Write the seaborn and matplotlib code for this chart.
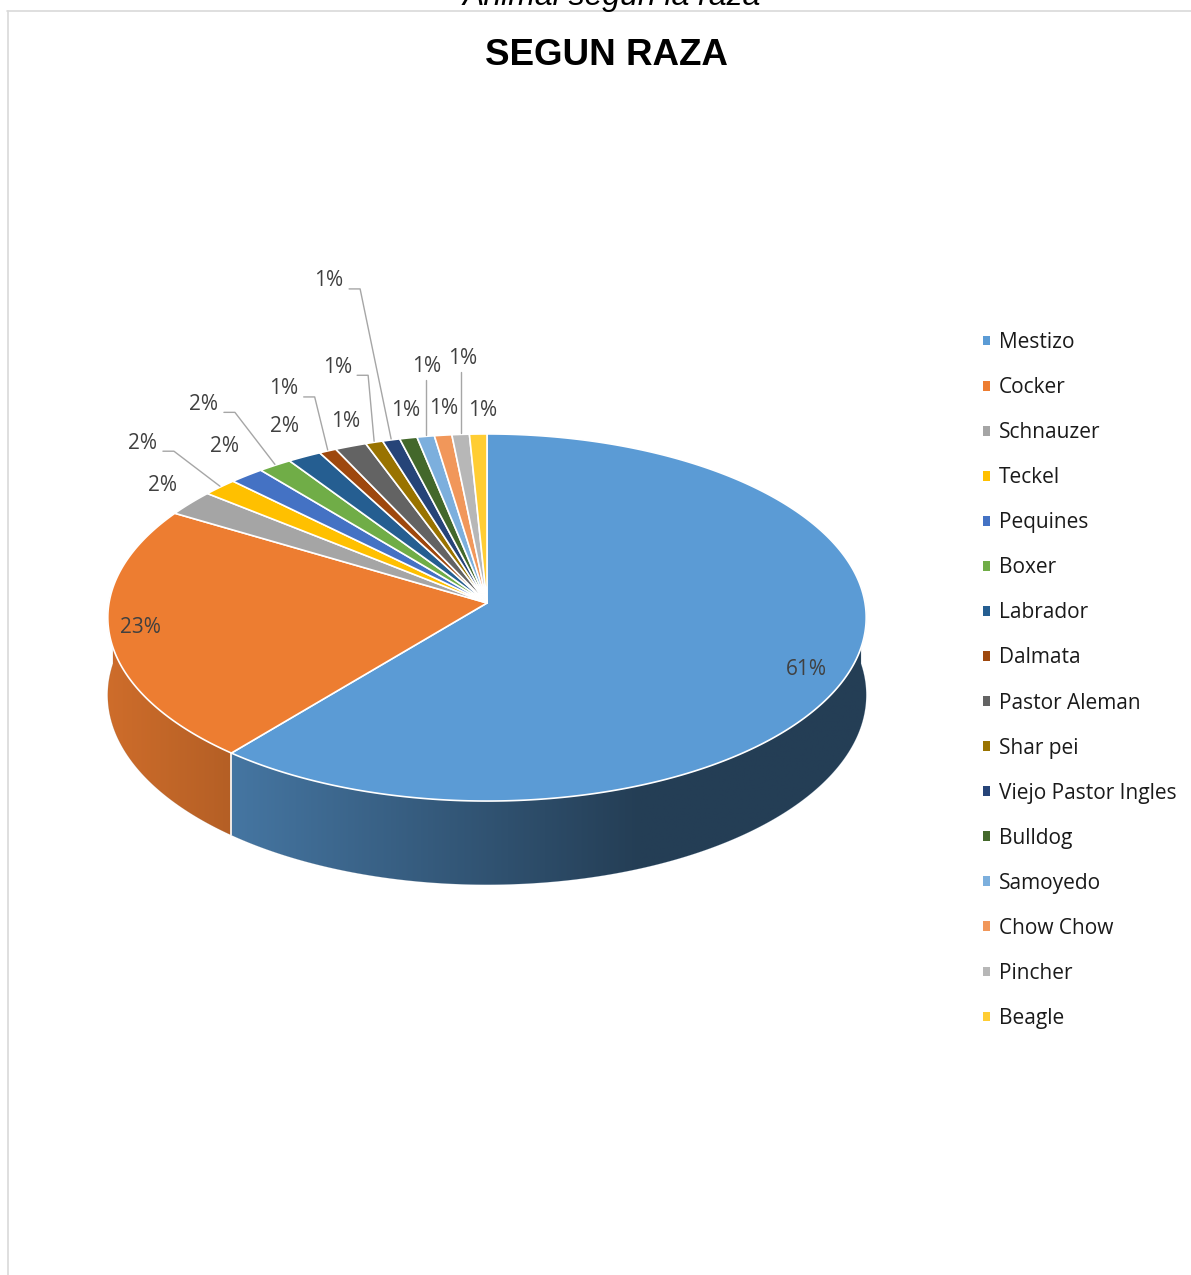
import numpy as np
import matplotlib
matplotlib.use("Agg")
import matplotlib.pyplot as plt
import seaborn as sns
from matplotlib.patches import Polygon, Patch

# ---------------- data ----------------
breeds = ["Mestizo", "Cocker", "Schnauzer", "Teckel", "Pequines", "Boxer",
          "Labrador", "Dalmata", "Pastor Aleman", "Shar pei",
          "Viejo Pastor Ingles", "Bulldog", "Samoyedo", "Chow Chow",
          "Pincher", "Beagle"]
shares = [60.95, 22.6, 2.3, 1.6, 1.6, 1.55, 1.55, 0.8, 1.45, 0.8,
          0.8, 0.8, 0.8, 0.8, 0.8, 0.8]
colors_hex = ["#5B9BD5", "#ED7D31", "#A5A5A5", "#FFC000", "#4472C4", "#70AD47",
              "#255E91", "#9E480E", "#636363", "#997300", "#264478", "#43682B",
              "#7CAFDD", "#F1975A", "#B7B7B7", "#FFCD33"]
title = "SEGUN RAZA"
caption = "Animal según la raza"

# label layout (pixel offsets from the slice's rim midpoint) and leader flags
label_dx = [-46, 31, -28, -77, -22, -71, -20, -44, -5, -37, -62, -3, 1, 1, 2, 4]
label_dy = [3, -7, -18, -44, -29, -61, -30, -62, -25, -75, -159, -27, -70, -27, -76, -24]
leader = [False, False, False, True, False, True, False, True, False, True,
          True, False, True, False, True, False]

# ---------------- style ----------------
sns.set_theme(style="white")
plt.rcParams["font.family"] = ["Open Sans", "DejaVu Sans"]
palette = sns.color_palette(colors_hex)

W, H = 1191, 1275
fig = plt.figure(figsize=(W / 100, H / 100), dpi=100)
ax = fig.add_axes([0, 0, 1, 1])
ax.set_xlim(0, W)
ax.set_ylim(H, 0)
ax.axis("off")

# 3D pie geometry (perspective-projected disc)
CX, CY = 487, 603
A, B, K, D = 378, 182.4, 0.079, 77


def proj(phi_deg, depth=0.0):
    p = np.radians(phi_deg)
    s = 1.0 / (1.0 + K * np.sin(p))
    x = CX + A * np.cos(p) * s
    y = CY - B * np.sin(p) * s + depth * s
    return x, y


frac = np.asarray(shares) / np.sum(shares)
ends = 90 - 360 * np.cumsum(frac)
starts = np.concatenate([[90], ends[:-1]])
mids = (starts + ends) / 2


def shade(x):
    return np.interp(x, [107, 640], [0.87, 0.40])


# side walls (front half) with a horizontal gradient clipped to each wall
for i, (a0, a1) in enumerate(zip(starts, ends)):
    lo, hi = max(a1, -185), min(a0, 5)
    if hi <= lo:
        continue
    t = np.linspace(lo, hi, 200)
    xt, yt = proj(t)
    xb, yb = proj(t, D)
    pts = list(zip(xt, yt)) + list(zip(xb[::-1], yb[::-1]))
    wall = Polygon(pts, closed=True, facecolor="none", edgecolor="none",
                   transform=ax.transData)
    ax.add_patch(wall)
    x0, x1 = min(xt.min(), xb.min()) - 2, max(xt.max(), xb.max()) + 2
    y0, y1 = min(yt.min(), yb.min()) - 2, max(yt.max(), yb.max()) + 2
    xs = np.linspace(x0, x1, 400)
    grad = np.clip(np.array(palette[i])[None, :] * shade(xs)[:, None], 0, 1)
    img = np.repeat(grad[None, :, :], 2, axis=0)
    im = ax.imshow(img, extent=(x0, x1, y1, y0), aspect="auto",
                   interpolation="bilinear", zorder=1)
    im.set_clip_path(wall)
    ax.add_patch(Polygon(pts, closed=True, facecolor="none",
                         edgecolor=tuple(np.array(palette[i]) * 0.6),
                         lw=0.4, alpha=0.3, zorder=1.5))

ax.set_xlim(0, W)
ax.set_ylim(H, 0)

# white seam between side walls of visible slices
for a in ends:
    if -180 < a < 0:
        xt, yt = proj(a)
        xb, yb = proj(a, D)
        ax.plot([xt, xb], [yt, yb], color="white", lw=1.2, zorder=2)

# top faces
for i, (a0, a1) in enumerate(zip(starts, ends)):
    t = np.linspace(a0, a1, max(int(abs(a0 - a1) / 0.5), 3))
    xs, ys = proj(t)
    pts = [(CX, CY)] + list(zip(xs, ys))
    ax.add_patch(Polygon(pts, closed=True, facecolor=palette[i],
                         edgecolor="white", lw=1.2, joinstyle="round", zorder=3))

# data labels
for i, m in enumerate(mids):
    axp, ayp = proj(m)
    lx, ly = axp + label_dx[i], ayp + label_dy[i]
    ax.text(lx, ly, f"{shares[i]:.0f}%", ha="center", va="center",
            fontsize=15, color="#404040", zorder=5)
    if leader[i]:
        if abs(label_dx[i]) < 12:
            ax.plot([axp, axp], [ayp - 1, ly + 14], color="#A6A6A6", lw=1.0, zorder=4)
        else:
            ax.plot([lx + 20, lx + 31, axp], [ly + 8, ly + 8, ayp - 1],
                    color="#A6A6A6", lw=1.0, zorder=4)

# legend
handles = [Patch(facecolor=palette[i], edgecolor="none", label=b)
           for i, b in enumerate(breeds)]
leg = ax.legend(handles=handles, loc="center left",
                bbox_to_anchor=(983 / W, 1 - 680.5 / H), bbox_transform=fig.transFigure,
                frameon=False, fontsize=15, handlelength=0.35, handleheight=0.35,
                handletextpad=0.4, labelspacing=1.155, borderpad=0, borderaxespad=0)
for txt in leg.get_texts():
    txt.set_color("#1a1a1a")

# titles
ax.text(612, 4.5, caption, ha="center", va="baseline", fontsize=23,
        style="italic", family="Liberation Sans", color="black", zorder=6)
ax.text(606, 65, title, ha="center", va="baseline", fontsize=26.5,
        weight="bold", family="Liberation Sans", color="black", zorder=6)

# frame lines
ax.plot([7, W], [10.5, 10.5], color="#D9D9D9", lw=1.2, zorder=0)
ax.plot([7.5, 7.5], [10.5, H], color="#D9D9D9", lw=1.2, zorder=0)

fig.savefig("out.png", dpi=100)
